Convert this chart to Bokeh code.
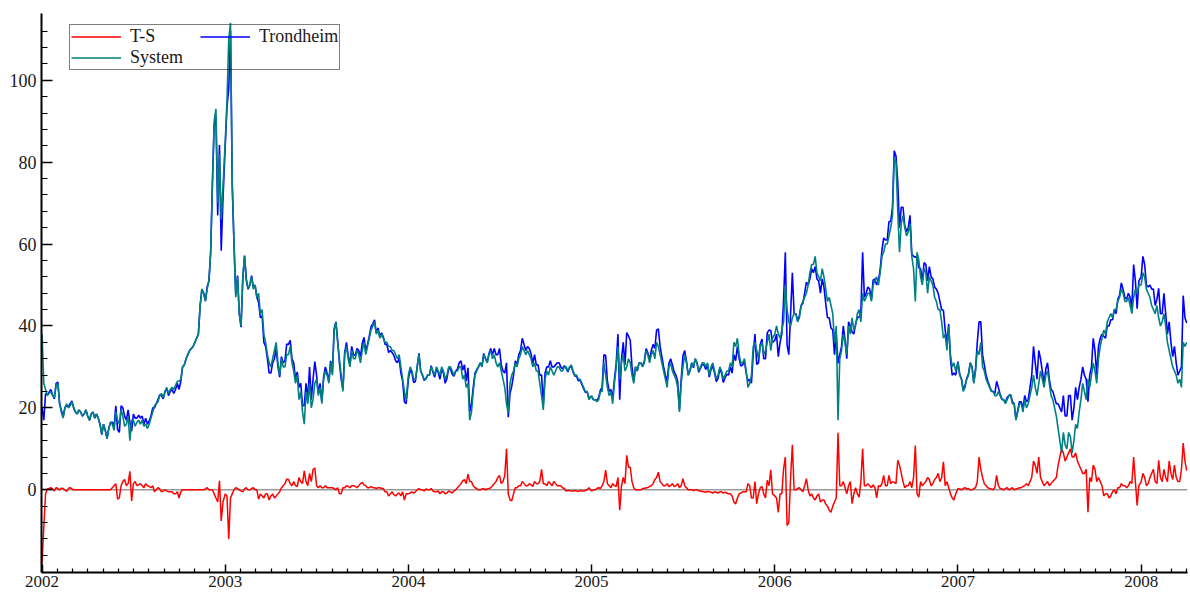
import calendar
import pandas as pd
from bokeh.plotting import figure
from bokeh.models import ColumnDataSource, Range1d, FixedTicker, Legend, LegendItem, Span
from bokeh.embed import file_html
from bokeh.resources import INLINE

# Prices (EUR/MWh). Two samples per week: one at the start of each week
# (every 7 days from 1 January) and one in the middle of that week.
YEARS = [2002, 2003, 2004, 2005, 2006, 2007, 2008]

system_2002 = [38, 24.5, 23.5, 23, 25.5, 21, 17.5, 21, 20.5, 20, 18.5, 19, 18.5, 18, 18.5,
               17.5, 17.5, 13.5, 14.5, 15, 16, 19, 16, 18, 16, 12, 17, 16.5, 16, 15.5, 15,
               17.5, 20.5, 21.5, 23.5, 24, 23.5, 25, 25.5, 26.5, 30, 32, 34, 35, 37, 45, 48,
               49, 58, 90, 70, 66]
system_2003 = [85, 110, 75, 47, 43, 52, 51, 50, 49, 47, 43, 38, 33, 30, 34, 31, 32, 30, 33,
               31, 26, 22, 19, 24, 26, 22, 27, 25, 27, 28, 31, 39, 36, 28, 33, 32, 34, 32, 33,
               34, 33, 37, 40, 38, 37, 37, 36, 35, 34, 32, 30, 24]
system_2004 = [28, 29, 27, 33, 28, 27, 28, 29, 30, 28, 29, 28, 30, 28, 29, 30, 28, 26, 19,
               28, 30, 30, 32, 33, 32, 31, 31, 27, 21, 26, 29, 30, 33, 34, 34, 32, 31, 29, 23,
               27, 28, 29, 29, 30, 29, 30, 30, 29, 28, 27, 25, 24]
system_2005 = [23, 22, 22, 24, 28, 23, 21, 30, 27, 33, 30, 31, 26, 29, 31, 31, 33, 33, 32,
               35, 31, 27, 30, 29, 27, 19, 30, 31, 29, 30, 31, 30, 31, 31, 30, 29, 28, 29, 28,
               29, 30, 35, 33, 31, 29, 26, 35, 34, 35, 33, 36, 34]
system_2006 = [38, 38, 39, 50, 41, 42, 43, 42, 46, 48, 53, 55, 53, 51, 52, 46, 45, 36, 17,
               34, 36, 40, 42, 40, 44, 48, 47, 48, 50, 52, 53, 58, 60, 64, 81, 68, 65, 64, 63,
               57, 46, 56, 50, 53, 52, 50, 46, 44, 37, 34, 33, 31]
system_2007 = [31, 27, 25, 28, 30, 29, 33, 30, 27, 25, 24, 23, 23, 22, 22, 23, 21, 19, 21,
               22, 21, 25, 25, 26, 27, 28, 26, 22, 18, 12, 14, 10, 13, 12, 15, 22, 24, 27, 28,
               29, 32, 37, 38, 42, 42, 44, 47, 48, 46, 45, 47, 48]
system_2008 = [50, 52, 48, 45, 43, 42, 41, 40, 34, 30, 28, 27, 36, 36]

system_mid_2002 = [26, 23, 24, 22.5, 26, 19, 20, 20, 21.5, 19, 19.5, 18, 19.5, 17, 19, 18.5,
                   16, 16, 12.5, 16.5, 14.5, 17, 19.5, 15.5, 18, 17, 15.5, 17, 17, 16, 16,
                   19, 21, 23, 22.5, 25, 24.5, 24.5, 26.5, 27, 30.5, 33, 34.5, 36, 38, 49,
                   46, 51, 75, 93, 82, 74]
system_mid_2003 = [95, 114, 60, 52, 40, 57, 49, 52, 50, 48, 44, 36, 31, 32, 36, 28, 30, 33,
                   35, 29, 28, 24, 16, 21, 20, 26, 23, 21, 29, 26, 28, 41, 32, 24, 35, 30,
                   32, 34, 31, 36, 35, 39, 41, 39, 38, 36, 35, 34, 33, 33, 27, 22]
system_mid_2004 = [30, 27, 30, 29, 27, 28, 30, 28, 29, 30, 27, 30, 29, 29, 30, 27, 25, 17,
                   24, 29, 31, 33, 31, 34, 33, 30, 29, 25, 18.7, 28, 31, 32, 35, 33, 33, 30,
                   29, 26, 19.5, 29, 30, 28, 30, 29, 30, 29, 30.5, 28, 27, 26, 24, 22]
system_mid_2005 = [22, 21.5, 24, 31, 25, 24, 26, 35, 31, 29, 32, 28, 30, 31, 30, 34, 31, 34,
                   36, 33, 29, 25, 31, 28, 25, 26, 33, 28, 31, 32, 29, 31, 30, 28, 31, 27,
                   30, 27, 29, 31, 36, 37, 31, 32, 25, 28, 36, 32, 36, 34, 38, 37]
system_mid_2006 = [40, 37, 41, 44, 40, 43, 41, 45, 47, 50, 55, 57, 52, 54, 49, 47, 43, 40,
                   32, 38, 33, 38, 39, 43, 41, 46, 48, 46, 51, 50, 57, 60, 62, 67, 80, 58,
                   67, 62, 65, 54, 58, 52, 54, 48, 51, 47, 44, 41, 38, 40, 30, 29]
system_mid_2007 = [28, 24, 27, 31, 26, 34, 36, 29, 26, 24, 23, 24, 22, 21, 23, 21, 17, 21,
                   19, 20, 23, 28, 23, 29, 25, 29, 23, 20, 15, 9, 11, 14, 9, 16, 19, 26, 22,
                   25, 31, 26, 35, 39, 41, 43, 44, 46, 49, 46, 47, 43, 49, 50]
system_mid_2008 = [53, 49, 47, 44, 45, 40, 43, 36, 32, 29, 26, 25, 35]

# Trondheim minus System (T-S), same sampling
ts_2002 = [-18, -1, 0.3, 0.2, 0.5, 0, 0.3, -0.4, 0.5, 0, 0, 0, 0, 0, 0, 0, 0, 0, 0, 0, 0.5,
           1.5, -2, 2, 1, 4.5, 1.5, 1, 1.5, 0.5, 1, 0.5, -0.5, 0.5, -0.5, 0, -0.5, -0.5, -1,
           -2, 0, 0, 0, 0, 0, 0, 0, 0.5, 0, -1, -3, -7.6]
ts_2003 = [-1, -12, -1, 0.5, 0, -0.5, 0.5, 0, 0.5, 0, -1, -2, -1, -1.5, -2, -1, 0.5, 1.5,
           2.5, 1, 1, 3, 1.5, 2, 4, 5, 1, 1, 0.5, 0.5, 0.5, 0.3, 0.5, -1, 0.5, 0.8, 1, 0.8,
           1, 1.8, 1, 0.5, 0.5, 0.3, 0.5, 0.3, -0.5, -1, -1.2, -1, -1.5, -2.5]
ts_2004 = [-1, -0.5, -0.5, 0.3, 0, 0.2, 0, -0.3, -0.5, -1, -0.5, -0.8, -0.5, -0.3, 0.5, 1.5,
           2.5, 3.8, 2, 0.5, 0, 0.2, 0, 0.3, 1, 2, 3.5, 2, 10, -2.5, -1, 0.5, 1, 1.5, 1, 1.2,
           2, 1.5, 5, 1.5, 2, 1, 1.5, 1, 0.5, -0.3, -0.2, -0.3, -0.3, -0.2, -0.3, 0]
ts_2005 = [-0.3, 0, 0.5, 1, 4.8, 1, 1.5, 0.8, -5, 3, 8.4, 5.5, 0.5, 0, 0, 0.3, 0.5, 1, 2.5,
           4.3, 1.5, 1, 0.8, 1.5, 1, 0.5, 2.7, 0.5, 0, -0.2, 0, -0.3, -0.5, -0.4, -0.6, -0.5,
           -0.8, -0.5, -0.6, -1, -1.5, -3.5, -1, -0.5, -0.5, 1, -2, -3.4, 0.5, -1, 2.3, 4.9]
ts_2006 = [-1.5, -5.5, -1, 8, -8, 11, 0, 0.5, -0.5, 2.7, -1.5, -2, -1.5, -3, -2.5, -4, -5.5,
           -3, 13.9, 1, 0.5, 1, -3.4, 0.5, -1.8, 10, 1, 1, 1.2, -2, 0.8, 3.5, 1, 1.5, 1.8, 7.2,
           4, 0.5, 1, 0.5, 10.8, -1.8, 1, 2, 2.5, 1.5, 3, 2, 6.8, 2, -1, -2.5]
ts_2007 = [0.3, 0, 0.5, 0.3, 0, 0.5, 8, 3, 1, 0.3, 0, 3.5, 0.3, 0, 0.5, 0.2, 0, 0.3, 0.5, 1,
           1, 3, 6, 8, 2, 1.5, 1, 2, 3, 8, 9, 8, 10, 8, 7, 5, 4, -5.5, 2, 5, 3, 1, -1, -2,
           -0.5, -1, 0.5, 1, 0.5, 2, 8, -3.8]
ts_2008 = [2, 3, 1.5, 4, 2, 7.2, 2, 3, 7, 2.5, 3, 2, 11.4, 4.7]

ts_mid_2002 = [-9, 0.2, 0.5, -0.3, 0.3, 0.4, 0, 0.3, 0.2, 0, 0, 0, 0, 0, 0, 0, 0, 0, 0, 0,
               1, -2.3, 1, 2.5, 1.5, -2.7, 2, 1.2, 1, 1.5, 0.8, 1, 0, 0.2, -0.3, -0.3, -0.5,
               -1, -0.5, -0.5, 0, 0, 0, 0, 0, 0, 0.2, 0, 0, -2, 2.2, -3]
ts_mid_2003 = [-1.5, -2, 0, 0.3, -0.3, 0.2, 0, 0.3, 0, -2.3, -1.5, -1, -2.5, -1, -1.5, -0.5,
               1, 2.6, 1.5, 2, 0.8, 2, 4.6, 1, 2, 5.3, 0.5, 0.5, 1, 0.5, 0.5, 0, -1, 0.5, 1,
               0.5, 1, 0.5, 1.5, 1.2, 0.5, 0.8, 0.5, 0.5, 0.3, -0.5, -1.5, -0.5, -1.5, -0.8,
               -0.5, -1]
ts_mid_2004 = [-0.8, -0.8, 0, 0, -0.3, 0, 0.3, -0.5, -0.3, -0.5, -1, -0.3, -0.8, 0, 1, 2.2,
               1.5, 2, 1, 0.3, 0, 0.3, 0.2, 0.5, 1.5, 3, 1.5, 3.5, -1, -2.7, 0.5, 1, 2, 1,
               1.5, 0.8, 1.5, 2, 1.5, 1, 1.5, 2, 1, 1, 0.3, -0.2, -0.3, -0.2, -0.4, -0.3,
               -0.2, 0.5]
ts_mid_2005 = [0, 0.3, 0.3, 2, 1.5, 0.5, 1, 3, 0.8, 1.5, 5.5, 2, 0, 0, 0.3, 0.5, 0.8, 1.5, 3,
               2, 1, 1.5, 1, 0.8, 1.5, 1, 1, 0, 0, 0, -0.3, -0.4, -0.6, -0.5, -0.8, -0.6,
               -0.5, -0.8, -0.8, -1, -3, -2, -0.8, -0.5, 1.5, -2, 2, -1, 0.8, -2, 1, -1]
ts_mid_2006 = [-2, -1, 5.1, -8.7, 3, 0, 0.3, 0, 1, 0, -1, -2.5, -1, -2.5, -3.5, -5, -4, -2,
               1, 2, -1, 2, -1, -1, 2, 1, 1.5, 0.5, 0.5, 1, 1.5, 1, 3.5, 2, 1.5, 6, 2, 1, 2, 3,
               -1, 2, 1.5, 3, 1, 2.5, 4, 3, 1, 0.5, -2, -1]
ts_mid_2007 = [0.2, 0.3, 0.2, 0, 0.3, 2, 5, 1.5, 0.5, 0.2, 0.5, 1, 0.2, 0.3, 0, 0.5, 0.2,
               0.5, 0.8, 1.5, 2, 7, 4, 3, 1, 2, 1.5, 2.5, 6, 10, 7, 9, 8, 9, 6, 4, 5, 3, 6, 2,
               2, -1.5, -1, -1.5, 0, 0.5, 1.5, 1, 1, 1.5, 2, 1]
ts_mid_2008 = [4, 1, 3, 5, 1.5, 3, 5, 2, 4, 6, 2, 5, 7]

system_by_year = [system_2002, system_2003, system_2004, system_2005,
                  system_2006, system_2007, system_2008]
system_mid_by_year = [system_mid_2002, system_mid_2003, system_mid_2004, system_mid_2005,
                      system_mid_2006, system_mid_2007, system_mid_2008]
ts_by_year = [ts_2002, ts_2003, ts_2004, ts_2005, ts_2006, ts_2007, ts_2008]
ts_mid_by_year = [ts_mid_2002, ts_mid_2003, ts_mid_2004, ts_mid_2005,
                  ts_mid_2006, ts_mid_2007, ts_mid_2008]

TICK_LABELS = ["2002", "2003", "2004", "2005", "2006", "2007", "2008"]
Y_TICKS = [0, 20, 40, 60, 80, 100]


def fractional_years(year, n, offset_days):
    """Decimal-year positions of n weekly samples from 1 January, shifted by offset_days."""
    days = pd.date_range(f"{year}-01-01", periods=n, freq="7D")
    length = 366 if calendar.isleap(year) else 365
    return [year + (d.dayofyear - 1 + offset_days) / length for d in days]


samples = []
for yr, s_w, s_m, d_w, d_m in zip(YEARS, system_by_year, system_mid_by_year,
                                  ts_by_year, ts_mid_by_year):
    samples += list(zip(fractional_years(yr, len(s_w), 0), s_w, d_w))
    samples += list(zip(fractional_years(yr, len(s_m), 3.5), s_m, d_m))
samples.sort()

t = [row[0] for row in samples]
system = [row[1] for row in samples]
ts = [row[2] for row in samples]
trondheim = [s + d for s, d in zip(system, ts)]

src = ColumnDataSource(dict(t=t, system=system, trondheim=trondheim, ts=ts))

p = figure(width=1190, height=595, output_backend="svg", toolbar_location=None,
           x_range=Range1d(2001.997, 2008.253), y_range=Range1d(-20.2, 116.3),
           min_border_left=41, min_border_right=3, min_border_top=13, min_border_bottom=23)
p.xgrid.visible = False
p.ygrid.visible = False
p.outline_line_color = None
p.background_fill_color = "white"
p.border_fill_color = "white"

# monthly minor ticks along the time axis
minor_x = [y + m / 12 for y in range(2002, 2009) for m in range(1, 12)]
p.xaxis.ticker = FixedTicker(ticks=YEARS, minor_ticks=minor_x)
p.xaxis.major_label_overrides = {y: lab for y, lab in zip(YEARS, TICK_LABELS)}
p.yaxis.ticker = FixedTicker(ticks=Y_TICKS, minor_ticks=list(range(-16, 116, 4)))

for ax in (p.xaxis[0], p.yaxis[0]):
    ax.axis_line_color = "black"
    ax.axis_line_width = 2
    ax.major_tick_line_color = "black"
    ax.minor_tick_line_color = "black"
    ax.major_tick_line_width = 1.5
    ax.minor_tick_line_width = 1.2
    ax.major_tick_out = 0
    ax.minor_tick_out = 0
    ax.major_label_text_font = "Liberation Serif"
    ax.major_label_text_color = "#1a1a1a"

p.xaxis.major_label_text_font_size = "17px"
p.yaxis.major_label_text_font_size = "18px"
p.xaxis.major_tick_in = 8
p.xaxis.minor_tick_in = 4
p.xaxis.major_label_standoff = 3
p.yaxis.major_tick_in = 11
p.yaxis.minor_tick_in = 6
p.yaxis.major_label_standoff = 5

p.add_layout(Span(location=0, dimension="width", line_color="#9a9a9a",
                  line_width=1.5, level="underlay"))

r_ts = p.line("t", "ts", source=src, line_color="#ff0000", line_width=1.5)
r_tr = p.line("t", "trondheim", source=src, line_color="#0000ff", line_width=1.6)
r_sys = p.line("t", "system", source=src, line_color="#008080", line_width=1.6)

# transparent legend box, so the 2003 spike stays visible through it
legend = Legend(items=[LegendItem(label="T-S", renderers=[r_ts]),
                       LegendItem(label="Trondheim", renderers=[r_tr]),
                       LegendItem(label="System", renderers=[r_sys])],
                orientation="horizontal", ncols=2, location=(28, 502),
                border_line_color="black", border_line_width=1,
                background_fill_alpha=0,
                label_text_font="Liberation Serif", label_text_font_size="18px",
                label_text_color="#1a1a1a",
                glyph_width=50, glyph_height=19, label_height=19, label_width=70,
                label_standoff=9, spacing=0, padding=1, margin=0)
p.add_layout(legend)

open("out.html", "w").write(file_html(p, INLINE))
